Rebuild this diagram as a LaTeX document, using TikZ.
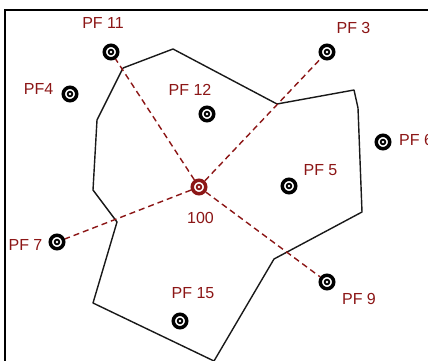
\documentclass[tikz,border=0pt]{standalone}
\usepackage{fontspec}
\setmainfont{Liberation Sans}
\definecolor{lbl}{RGB}{140,22,22}
\definecolor{edge}{RGB}{25,25,25}
\begin{document}
\begin{tikzpicture}[x=1pt,y=-1pt,
  marker/.style={circle,draw=black,fill=white,line width=3.5pt,minimum size=13.5pt,inner sep=0pt,
    path picture={\fill[black] (path picture bounding box.center) circle (3.3pt);
                  \fill[white] (path picture bounding box.center) circle (1.4pt);}},
  centermark/.style={circle,draw=lbl,fill=white,line width=3.5pt,minimum size=13.5pt,inner sep=0pt,
    path picture={\fill[lbl] (path picture bounding box.center) circle (3.3pt);
                  \fill[white] (path picture bounding box.center) circle (1.4pt);}},
  lab/.style={text=lbl,inner sep=0pt,font=\fontsize{16}{16}\selectfont},
  cell/.style={draw=edge,line width=1.4pt,line join=round},
  link/.style={draw=lbl,line width=1.4pt,dash pattern=on 6pt off 4pt}]
\useasboundingbox (0,0) rectangle (428,361);
\fill[white] (0,0) rectangle (428,361);
% frame
\draw[line width=2pt] (5,361) -- (5,10) -- (428,10);
% cell vertices
\coordinate (a) at (123,68);
\coordinate (b) at (173,49);
\coordinate (c) at (277,104);
\coordinate (d) at (354,90);
\coordinate (d2) at (358,108);
\coordinate (e) at (362,212);
\coordinate (f) at (274,259);
\coordinate (g) at (214,361);
\coordinate (l1) at (97,120);
\coordinate (l2) at (93,190);
\coordinate (h) at (117,222);
\coordinate (i) at (93,303);
\draw[cell] (a) -- (b) -- (c) -- (d) -- (d2) -- (e) -- (f) -- (g);
\draw[cell] (a) -- (l1) -- (l2) -- (h) -- (i) -- (g);
% markers
\node[marker] (p11) at (111,52) {};
\node[marker] (p4) at (70,94) {};
\node[marker] (p12) at (207,114) {};
\node[marker] (p3) at (327,52) {};
\node[marker] (p6) at (383,142) {};
\node[marker] (p5) at (289,186) {};
\node[marker] (p7) at (57,242) {};
\node[marker] (p15) at (180,321) {};
\node[marker] (p9) at (327,282) {};
\node[centermark] (m100) at (199,187) {};
% links
\draw[link] (m100) -- (p11);
\draw[link] (m100) -- (p3);
\draw[link] (m100) -- (p7);
\draw[link] (m100) -- (p9);
% labels
\node[lab] (t11) at (103,23) {PF 11};
\node[lab] (t4) at (38.5,89) {PF4};
\node[lab] (t12) at (190,89.5) {PF 12};
\node[lab] (t3) at (353.5,28) {PF 3};
\node[lab,anchor=west] (t6) at (399,139.5) {PF 6};
\node[lab] (t5) at (320.5,170.5) {PF 5};
\node[lab] (t100) at (200.5,218) {100};
\node[lab] (t7) at (25.5,244.5) {PF 7};
\node[lab] (t15) at (193,293) {PF 15};
\node[lab] (t9) at (359,299) {PF 9};
\end{tikzpicture}
\end{document}
